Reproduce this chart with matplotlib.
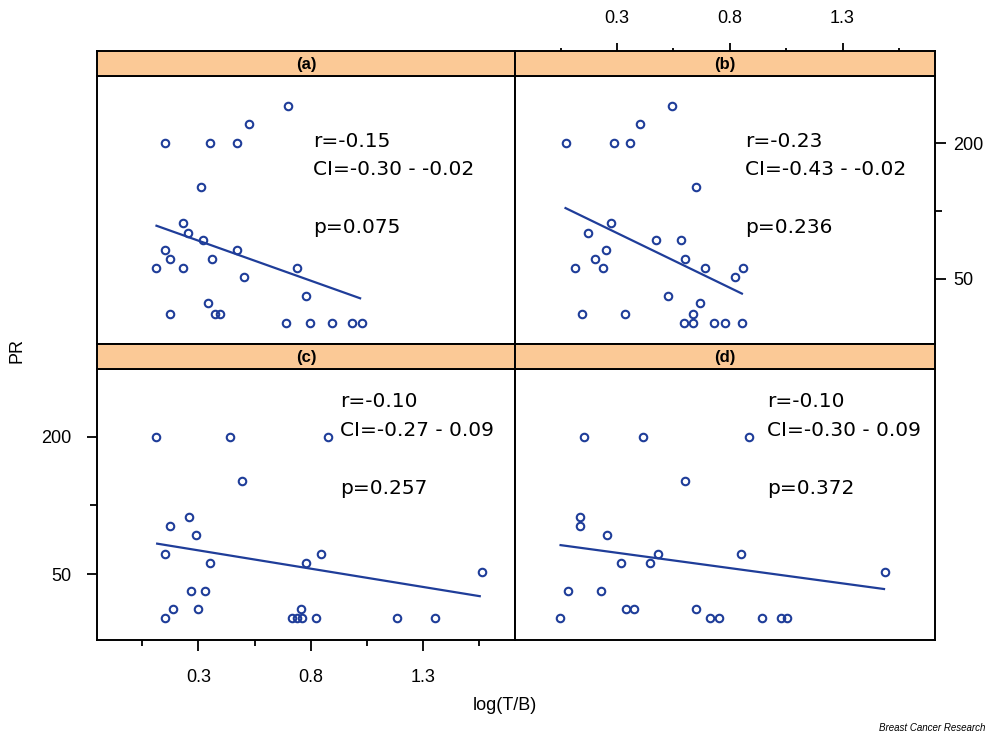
import matplotlib
import matplotlib.pyplot as plt
from matplotlib.ticker import FixedLocator, NullFormatter, NullLocator

matplotlib.use("Agg")

# --- data (x = log(T/B), y = PR) ---
a_x = [0.701, 0.524, 0.150, 0.350, 0.472, 0.313, 0.232, 0.254, 0.319, 0.472,
       0.150, 0.172, 0.361, 0.113, 0.232, 0.739, 0.504, 0.779, 0.341, 0.372,
       0.398, 0.172, 0.690, 0.798, 0.897, 0.986, 1.028]
a_y = [293, 243, 200, 200, 200, 128, 88, 80, 74, 67,
       67, 61, 61, 56, 56, 56, 51, 42, 39, 35,
       35, 35, 32, 32, 32, 32, 32]
a_fit_x = [0.113, 1.020]
a_fit_y = [86, 41]

b_x = [0.546, 0.402, 0.072, 0.287, 0.358, 0.652, 0.272, 0.171, 0.472, 0.583,
       0.252, 0.201, 0.601, 0.112, 0.239, 0.690, 0.861, 0.823, 0.527, 0.668,
       0.638, 0.143, 0.334, 0.598, 0.638, 0.731, 0.779, 0.854]
b_y = [293, 243, 200, 200, 200, 128, 88, 80, 74, 74,
       67, 61, 61, 56, 56, 56, 56, 51, 42, 39,
       35, 35, 35, 32, 32, 32, 32, 32]
b_fit_x = [0.072, 0.854]
b_fit_y = [103, 43]

c_x = [0.113, 0.442, 0.879, 0.494, 0.257, 0.174, 0.287, 0.150, 0.845, 0.353,
       0.779, 1.561, 0.266, 0.331, 0.186, 0.299, 0.758, 0.150, 0.716, 0.739,
       0.761, 0.823, 1.186, 1.353]
c_y = [200, 200, 200, 128, 89, 81, 74, 61, 61, 56,
       56, 51, 42, 42, 35, 35, 35, 32, 32, 32,
       32, 32, 32, 32]
c_fit_x = [0.116, 1.553]
c_fit_y = [68, 40]

d_x = [0.153, 0.416, 0.887, 0.601, 0.134, 0.134, 0.254, 0.484, 0.850, 0.316,
       0.445, 1.487, 0.084, 0.230, 0.341, 0.376, 0.650, 0.047, 0.713, 0.753,
       0.943, 1.028, 1.054]
d_y = [200, 200, 200, 128, 89, 81, 74, 61, 61, 56,
       56, 51, 42, 42, 35, 35, 35, 32, 32, 32,
       32, 32, 32]
d_fit_x = [0.050, 1.484]
d_fit_y = [67, 43]

panel_labels = ["(a)", "(b)", "(c)", "(d)"]
r_text = ["r=-0.15", "r=-0.23", "r=-0.10", "r=-0.10"]
ci_text = ["CI=-0.30 - -0.02", "CI=-0.43 - -0.02", "CI=-0.27 - 0.09", "CI=-0.30 - 0.09"]
p_text = ["p=0.075", "p=0.236", "p=0.257", "p=0.372"]

x_major = [0.3, 0.8, 1.3]
x_minor = [0.05, 0.55, 1.05, 1.55]
y_major = [50, 200]
y_minor = [100]

BLUE = "#1f3d99"
STRIP = "#fbc996"
XLIM = (-0.152, 1.71)
YLIM = (25.7, 397)
TICK_FONT = dict(family="Liberation Sans", size=13)


def style_frame(ax):
    for sp in ax.spines.values():
        sp.set_linewidth(1.4)
        sp.set_color("black")


def no_ticks(ax):
    ax.xaxis.set_major_locator(NullLocator())
    ax.xaxis.set_minor_locator(NullLocator())
    ax.yaxis.set_major_locator(NullLocator())
    ax.yaxis.set_minor_locator(NullLocator())


fig = plt.figure(figsize=(10, 7.39), dpi=100)

plot_pos = [
    [0.097, 0.5345, 0.418, 0.3627],
    [0.515, 0.5345, 0.420, 0.3627],
    [0.097, 0.134, 0.418, 0.3667],
    [0.515, 0.134, 0.420, 0.3667],
]
strip_pos = [
    [0.097, 0.8972, 0.418, 0.0338],
    [0.515, 0.8972, 0.420, 0.0338],
    [0.097, 0.5007, 0.418, 0.0338],
    [0.515, 0.5007, 0.420, 0.0338],
]
text_x = [0.517, 0.548, 0.581, 0.600]
text_y_top = [0.736, 0.631, 0.414]
text_y_bot = [0.861, 0.754, 0.538]

series = [
    (a_x, a_y, a_fit_x, a_fit_y),
    (b_x, b_y, b_fit_x, b_fit_y),
    (c_x, c_y, c_fit_x, c_fit_y),
    (d_x, d_y, d_fit_x, d_fit_y),
]

for i, (xs, ys, fx, fy) in enumerate(series):
    ax = fig.add_axes(plot_pos[i])
    ax.set_yscale("log")
    ax.plot(xs, ys, "o", ms=5.4, mfc="none", mec=BLUE, mew=1.5)
    ax.plot(fx, fy, "-", color=BLUE, lw=1.6)
    ax.set_xlim(*XLIM)
    ax.set_ylim(*YLIM)
    style_frame(ax)
    no_ticks(ax)

    ty = text_y_top if i < 2 else text_y_bot
    for txt, yy in zip([r_text[i], ci_text[i], p_text[i]], ty):
        ax.text(text_x[i], yy, txt, transform=ax.transAxes, fontsize=14.5,
                family="DejaVu Sans", va="baseline", ha="left", color="black")

    if i == 2:
        ax.xaxis.set_major_locator(FixedLocator(x_major))
        ax.xaxis.set_minor_locator(FixedLocator(x_minor))
        ax.set_xticklabels([f"{v:.1f}" for v in x_major], **TICK_FONT)
        ax.tick_params(axis="x", which="major", direction="out", length=8, width=1.3, pad=13)
        ax.tick_params(axis="x", which="minor", direction="out", length=4.5, width=1.3)
        ax.yaxis.set_major_locator(FixedLocator(y_major))
        ax.yaxis.set_minor_locator(FixedLocator(y_minor))
        ax.yaxis.set_minor_formatter(NullFormatter())
        ax.set_yticklabels([str(v) for v in y_major], **TICK_FONT)
        ax.tick_params(axis="y", which="major", direction="out", length=7.5, width=1.3, pad=11)
        ax.tick_params(axis="y", which="minor", direction="out", length=5, width=1.3)
    if i == 1:
        ax.yaxis.tick_right()
        ax.yaxis.set_major_locator(FixedLocator(y_major))
        ax.yaxis.set_minor_locator(FixedLocator(y_minor))
        ax.yaxis.set_minor_formatter(NullFormatter())
        ax.set_yticklabels([str(v) for v in y_major], **TICK_FONT)
        ax.tick_params(axis="y", which="major", direction="out", length=8, width=1.3, pad=5)
        ax.tick_params(axis="y", which="minor", direction="out", length=5, width=1.3)

    sax = fig.add_axes(strip_pos[i])
    sax.set_facecolor(STRIP)
    sax.set_xlim(*XLIM)
    style_frame(sax)
    no_ticks(sax)
    sax.text(0.5, 0.45, panel_labels[i], transform=sax.transAxes, ha="center",
             va="center", fontsize=12, fontweight="bold", family="Liberation Sans")
    if i == 1:
        sax.xaxis.tick_top()
        sax.xaxis.set_major_locator(FixedLocator(x_major))
        sax.xaxis.set_minor_locator(FixedLocator(x_minor))
        sax.set_xticklabels([f"{v:.1f}" for v in x_major], **TICK_FONT)
        sax.tick_params(axis="x", which="major", direction="out", length=5.5, width=1.3, pad=12)
        sax.tick_params(axis="x", which="minor", direction="out", length=2.5, width=1.3)

fig.text(0.017, 0.526, "PR", rotation=90, ha="center", va="center", **TICK_FONT)
fig.text(0.505, 0.046, "log(T/B)", ha="center", va="center", **TICK_FONT)
fig.text(0.985, 0.008, "Breast Cancer Research", ha="right", va="bottom",
         fontsize=7, style="italic", family="Liberation Sans")

fig.savefig("out.png", dpi=100)
